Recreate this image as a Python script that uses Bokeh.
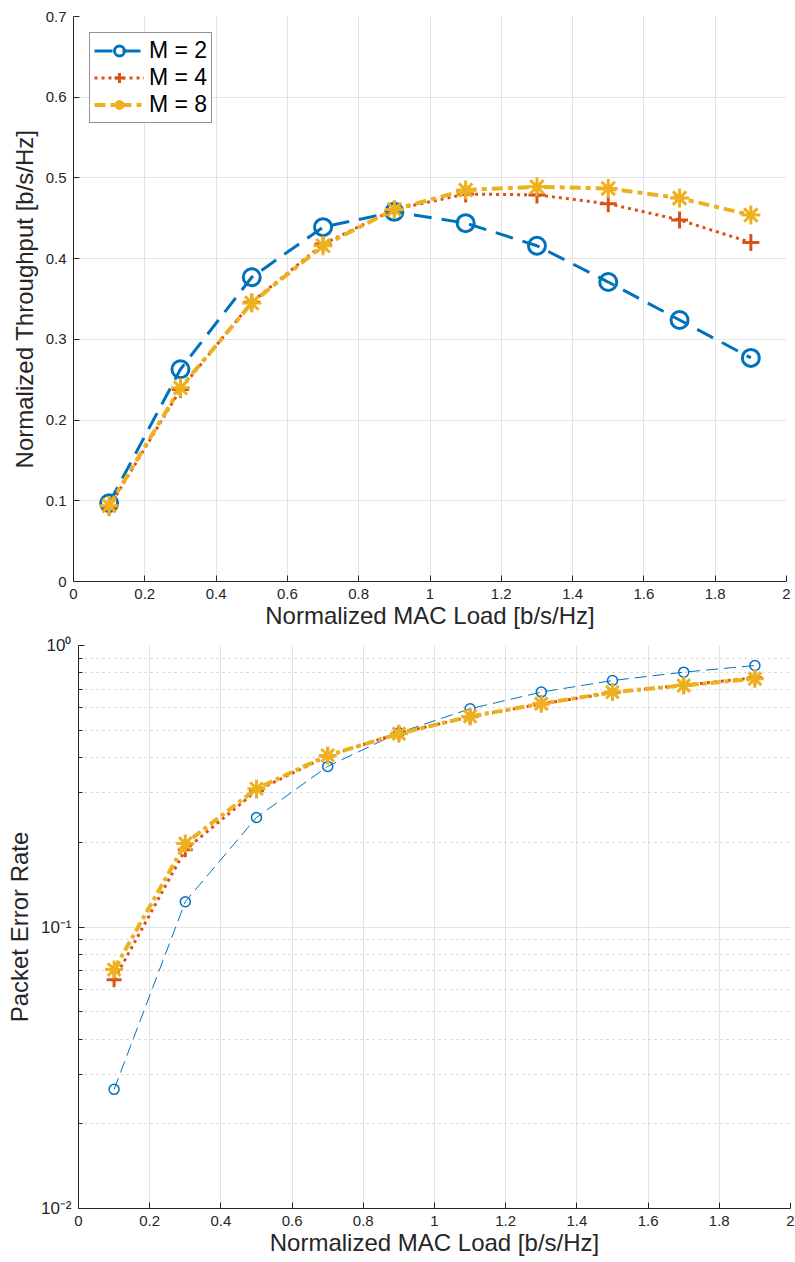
from bokeh.plotting import figure
from bokeh.layouts import column
from bokeh.models import (Range1d, FixedTicker, Legend, LegendItem,
                          CustomJSTickFormatter)
from bokeh.embed import file_html
from bokeh.resources import INLINE

# ---------------- data ----------------
load = [0.1, 0.3, 0.5, 0.7, 0.9, 1.1, 1.3, 1.5, 1.7, 1.9]

thr_m2 = [0.097, 0.263, 0.377, 0.439, 0.458, 0.444, 0.416, 0.371, 0.324, 0.277]
thr_m4 = [0.092, 0.238, 0.346, 0.418, 0.461, 0.480, 0.479, 0.468, 0.448, 0.420]
thr_m8 = [0.094, 0.240, 0.345, 0.416, 0.461, 0.485, 0.489, 0.487, 0.475, 0.454]

per_m2 = [0.0265, 0.123, 0.245, 0.372, 0.490, 0.596, 0.683, 0.751, 0.804, 0.849]
per_m4 = [0.065, 0.188, 0.305, 0.405, 0.488, 0.558, 0.620, 0.680, 0.723, 0.768]
per_m8 = [0.0706, 0.198, 0.310, 0.407, 0.486, 0.560, 0.621, 0.683, 0.721, 0.762]

x_ticks = [0, 0.2, 0.4, 0.6, 0.8, 1.0, 1.2, 1.4, 1.6, 1.8, 2.0]
thr_ticks = [0, 0.1, 0.2, 0.3, 0.4, 0.5, 0.6, 0.7]
per_ticks = [0.01, 0.1, 1.0]
per_minor = [k * 10.0 ** e for e in (-2, -1) for k in range(2, 10)]

labels = ["M = 2", "M = 4", "M = 8"]

# ---------------- style ----------------
FONT = "Liberation Sans"
TXT = "#262626"
BLUE = "#0072BD"
ORANGE = "#D95319"
YELLOW = "#EDB120"
GRID = "#E3E3E3"

num_fmt = CustomJSTickFormatter(code="return String(Math.round(tick*10)/10);")
log_fmt = CustomJSTickFormatter(code="""
const sup = {'-':'\u207B','0':'\u2070','1':'\u00B9','2':'\u00B2','3':'\u00B3',
             '4':'\u2074','5':'\u2075','6':'\u2076','7':'\u2077','8':'\u2078','9':'\u2079'};
const e = Math.round(Math.log10(tick));
return '10' + String(e).split('').map(c => sup[c]).join('');
""")


def style(p, xlabel, ylabel, yfmt, yticker, minor=False):
    p.frame_align = False
    p.outline_line_color = None
    p.background_fill_color = "white"
    p.xaxis.ticker = FixedTicker(ticks=x_ticks)
    p.xaxis.formatter = num_fmt
    p.yaxis.ticker = yticker
    p.yaxis.formatter = yfmt
    p.xaxis.axis_label = xlabel
    p.yaxis.axis_label = ylabel
    for ax in (p.xaxis, p.yaxis):
        ax.axis_line_color = TXT
        ax.axis_line_width = 1
        ax.major_tick_line_color = TXT
        ax.major_tick_in = 6
        ax.major_tick_out = 0
        ax.minor_tick_line_color = None
        ax.major_label_text_font = FONT
        ax.major_label_text_font_size = "15px"
        ax.major_label_text_color = TXT
        ax.axis_label_text_font = FONT
        ax.axis_label_text_font_size = "24px"
        ax.axis_label_text_font_style = "normal"
        ax.axis_label_text_color = TXT
        ax.major_label_standoff = 7
    p.xaxis.axis_label_standoff = 0
    p.yaxis.axis_label_standoff = 5
    p.xgrid.grid_line_color = GRID
    p.ygrid.grid_line_color = GRID
    p.xgrid.grid_line_width = 1
    p.ygrid.grid_line_width = 1
    if minor:
        p.yaxis.major_label_text_font_size = "17px"
        p.yaxis.minor_tick_line_color = TXT
        p.yaxis.minor_tick_in = 4
        p.yaxis.minor_tick_out = 0
        p.ygrid.minor_grid_line_color = "#CFCFCF"
        p.ygrid.minor_grid_line_dash = "2 4"
        p.ygrid.minor_grid_line_width = 1


# ---------------- top: throughput ----------------
p1 = figure(width=795, height=632, x_range=Range1d(0, 2), y_range=Range1d(0, 0.7),
            output_backend="svg", toolbar_location=None,
            min_border_left=73, min_border_right=9, min_border_top=16,
            min_border_bottom=51)
style(p1, "Normalized MAC Load [b/s/Hz]", "Normalized Throughput [b/s/Hz]",
      num_fmt, FixedTicker(ticks=thr_ticks))

l1 = p1.line(load, thr_m2, line_color=BLUE, line_width=3, line_dash="18 10")
s1 = p1.scatter(load, thr_m2, marker="circle", size=17, fill_color=None,
                line_color=BLUE, line_width=3)
l2 = p1.line(load, thr_m4, line_color=ORANGE, line_width=3, line_dash="3 4")
s2 = p1.scatter(load, thr_m4, marker="cross", size=17, line_color=ORANGE,
                line_width=3)
l3 = p1.line(load, thr_m8, line_color=YELLOW, line_width=4, line_dash="11 5 5 5")
s3 = p1.scatter(load, thr_m8, marker="asterisk", size=19, line_color=YELLOW,
                line_width=3)

legend = Legend(items=[LegendItem(label=labels[0], renderers=[l1, s1]),
                       LegendItem(label=labels[1], renderers=[l2, s2]),
                       LegendItem(label=labels[2], renderers=[l3, s3])],
                location="top_left")
legend.margin = 16
legend.padding = 4
legend.spacing = 0
legend.glyph_width = 50
legend.glyph_height = 25
legend.label_height = 25
legend.label_standoff = 5
legend.label_text_font = FONT
legend.label_text_font_size = "23px"
legend.label_text_color = "black"
legend.border_line_color = TXT
legend.border_line_width = 1
legend.background_fill_color = "white"
legend.background_fill_alpha = 1
p1.add_layout(legend)

# ---------------- bottom: packet error rate ----------------
p2 = figure(width=795, height=627, x_range=Range1d(0, 2), y_range=Range1d(0.01, 1),
            y_axis_type="log", output_backend="svg", toolbar_location=None,
            min_border_left=78, min_border_right=5, min_border_top=13,
            min_border_bottom=51)
style(p2, "Normalized MAC Load [b/s/Hz]", "Packet Error Rate", log_fmt,
      FixedTicker(ticks=per_ticks, minor_ticks=per_minor), minor=True)

p2.line(load, per_m2, line_color=BLUE, line_width=1, line_dash="12 6")
p2.scatter(load, per_m2, marker="circle", size=10, fill_color=None,
           line_color=BLUE, line_width=1.5)
p2.line(load, per_m4, line_color=ORANGE, line_width=3, line_dash="3 4")
p2.scatter(load, per_m4, marker="cross", size=15, line_color=ORANGE, line_width=3)
p2.line(load, per_m8, line_color=YELLOW, line_width=4, line_dash="10 4 4 4")
p2.scatter(load, per_m8, marker="asterisk", size=18, line_color=YELLOW, line_width=3)

layout = column(p1, p2, spacing=0)
open("out.html", "w").write(file_html(layout, INLINE))
